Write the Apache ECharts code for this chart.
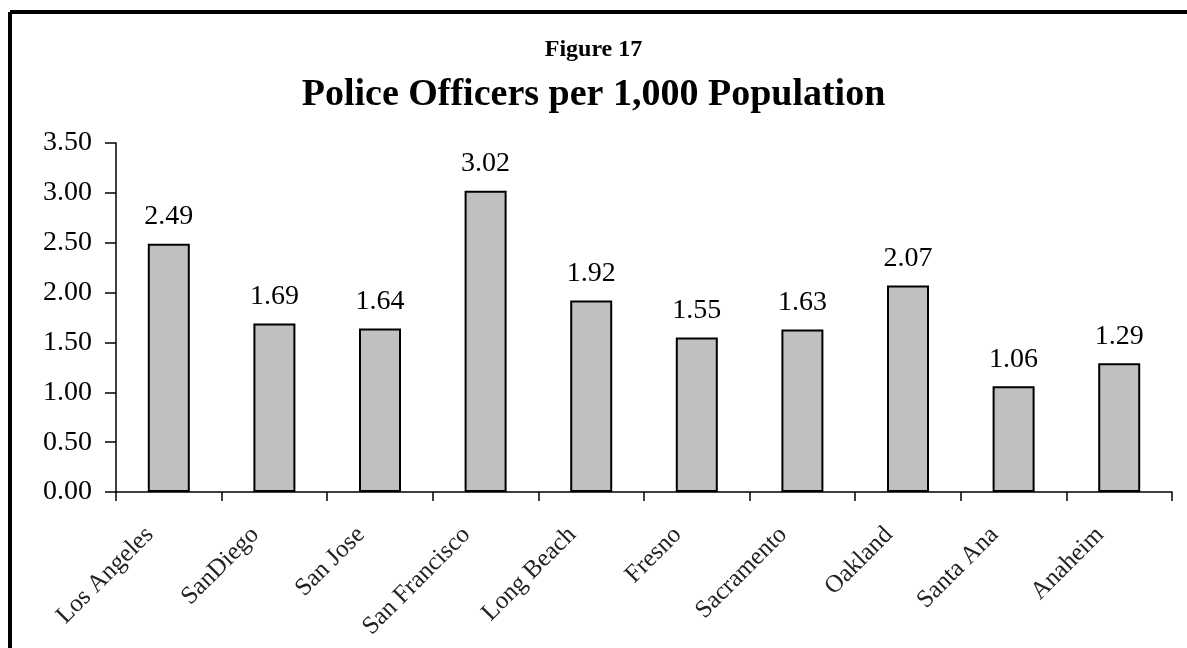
<!DOCTYPE html>
<html><head><meta charset="utf-8">
<style>html,body{margin:0;padding:0;background:#fff}#c{width:1187px;height:648px}</style>
<script src="https://cdn.jsdelivr.net/npm/echarts@6/dist/echarts.min.js"></script>
</head><body><div id="c"></div>
<script>
const categories = ['Los Angeles','SanDiego','San Jose','San Francisco','Long Beach','Fresno','Sacramento','Oakland','Santa Ana','Anaheim'];
const values = [2.49,1.69,1.64,3.02,1.92,1.55,1.63,2.07,1.06,1.29];
const figureLabel = 'Figure 17';
const titleText = 'Police Officers per 1,000 Population';
const serif = '"Liberation Serif","DejaVu Serif",serif';
const chart = echarts.init(document.getElementById('c'));
chart.setOption({
  animation:false,
  backgroundColor:'#fff',
  title:[
    {text:figureLabel,left:'center',top:38,textStyle:{fontFamily:serif,fontWeight:'bold',fontSize:24,color:'#000'},padding:0},
    {text:titleText,left:'center',top:76,textStyle:{fontFamily:serif,fontWeight:'bold',fontSize:38,color:'#000'},padding:0}
  ],
  graphic:[
    {type:'line',shape:{x1:10,y1:12,x2:1187,y2:12},style:{stroke:'#000',lineWidth:4}},
    {type:'line',shape:{x1:10,y1:12,x2:10,y2:648},style:{stroke:'#000',lineWidth:4}}
  ],
  grid:{left:116,right:15,top:143,bottom:156,containLabel:false},
  xAxis:{type:'category',data:categories,
    axisLine:{lineStyle:{color:'#000',width:1.5}},
    axisTick:{show:true,alignWithLabel:false,length:9,lineStyle:{color:'#000',width:1.5}},
    axisLabel:{rotate:45,interval:0,fontFamily:serif,fontSize:25,color:'#222',margin:20,padding:[0,27,0,0]}},
  yAxis:{type:'value',min:0,max:3.5,interval:0.5,
    axisLine:{show:true,lineStyle:{color:'#000',width:1.5}},
    axisTick:{show:true,length:11,lineStyle:{color:'#000',width:1.5}},
    splitLine:{show:false},
    axisLabel:{formatter:v=>v.toFixed(2),fontFamily:serif,fontSize:28,color:'#000',margin:24}},
  series:[{type:'bar',data:values,barWidth:42,
    itemStyle:{color:'#c0c0c0',borderColor:'#000',borderWidth:2},
    label:{show:true,position:'top',distance:13,formatter:p=>p.value.toFixed(2),fontFamily:serif,fontSize:28,color:'#000'}}]
});
</script></body></html>
